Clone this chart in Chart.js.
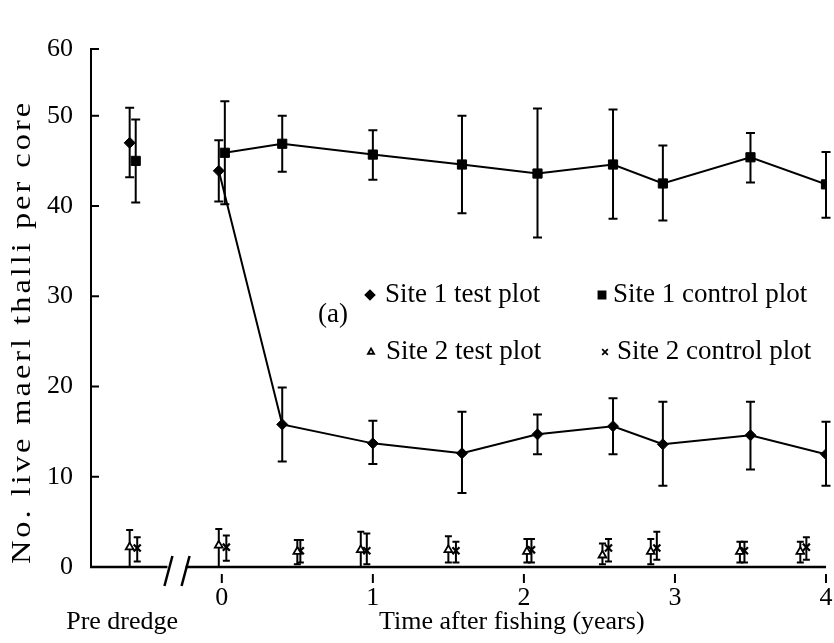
<!DOCTYPE html>
<html>
<head>
<meta charset="utf-8">
<script src="https://cdn.jsdelivr.net/npm/chart.js@4/dist/chart.umd.min.js"></script>
<style>
  html, body { margin: 0; padding: 0; background: #fff; }
  canvas { display: block; }
</style>
</head>
<body>
<canvas id="maerl-chart" width="834" height="643"></canvas>
<script>
// values (years after fishing; pre-dredge samples sit left of the axis break)
const s1TestX  = [-0.61, -0.02, 0.40, 1.00, 1.59, 2.09, 2.59, 2.92, 3.50, 4.00];
const s1TestY  = [47.0, 43.9, 15.8, 13.7, 12.6, 14.7, 15.6, 13.6, 14.6, 12.5];
const s1TestHi = [50.9, 47.3, 19.9, 16.2, 17.2, 16.9, 18.7, 18.3, 18.3, 16.1];
const s1TestLo = [43.2, 40.5, 11.7, 11.4, 8.2, 12.5, 12.5, 9.0, 10.8, 9.0];

const s1CtrlX  = [-0.57, 0.02, 0.40, 1.00, 1.59, 2.09, 2.59, 2.92, 3.50, 4.00];
const s1CtrlY  = [45.0, 45.9, 46.9, 45.7, 44.6, 43.6, 44.6, 42.5, 45.4, 42.4];
const s1CtrlHi = [49.6, 51.6, 50.0, 48.4, 50.0, 50.8, 50.7, 46.7, 48.1, 46.0];
const s1CtrlLo = [40.4, 40.2, 43.8, 42.9, 39.2, 36.5, 38.6, 38.4, 42.6, 38.7];

const s2TestX  = [-0.61, -0.02, 0.50, 0.92, 1.50, 2.02, 2.52, 2.84, 3.43, 3.83];
const s2TestY  = [2.2, 2.4, 1.7, 1.9, 1.9, 1.7, 1.3, 1.7, 1.7, 1.7];
const s2TestHi = [4.1, 4.2, 3.0, 3.9, 3.4, 3.1, 2.6, 3.1, 2.8, 2.8];
const s2TestLo = [0.0, 0.0, 0.3, 0.0, 0.5, 0.5, 0.3, 0.3, 0.5, 0.5];

const s2CtrlX  = [-0.56, 0.03, 0.52, 0.96, 1.55, 2.05, 2.56, 2.88, 3.46, 3.87];
const s2CtrlY  = [2.1, 2.2, 1.8, 1.8, 1.8, 1.9, 2.1, 2.1, 1.8, 2.2];
const s2CtrlHi = [3.3, 3.5, 3.0, 3.7, 2.8, 3.1, 3.1, 3.9, 2.8, 3.3];
const s2CtrlLo = [0.6, 0.7, 0.5, 0.3, 0.5, 0.5, 0.6, 0.8, 0.5, 0.8];

const seriesNames = ['Site 1 test plot', 'Site 1 control plot', 'Site 2 test plot', 'Site 2 control plot'];

// axis ticks as drawn on the original (its top tick sits short of a true 60)
const yTickValues = [0, 10, 20, 30, 40, 50, 57.4];
const yTickLabels = ['0', '10', '20', '30', '40', '50', '60'];
const xTickValues = [0, 1, 2, 3, 4];
const xTickLabels = ['0', '1', '2', '3', '4'];
const xMin = -0.866, xMax = 4.0;
const breakFrom = -0.36, breakTo = -0.24;

const FONT = '"Liberation Serif", "DejaVu Serif", serif';

function points(xs, ys) {
  return xs.map((x, i) => ({ x: x, y: ys[i] }));
}

const errorBars = [
  { lo: s1TestLo, hi: s1TestHi, cap: 4.5 },
  { lo: s1CtrlLo, hi: s1CtrlHi, cap: 4.5 },
  { lo: s2TestLo, hi: s2TestHi, cap: 3.5 },
  { lo: s2CtrlLo, hi: s2CtrlHi, cap: 3.5 }
];

// skip the pre-dredge -> time 0 segment
const skipFirst = { borderColor: ctx => ctx.p0DataIndex === 0 ? 'rgba(0,0,0,0)' : '#000' };

const errorBarPlugin = {
  id: 'errorBars',
  beforeDatasetsDraw(chart) {
    const ctx = chart.ctx;
    const xs = chart.scales.x, ys = chart.scales.y;
    ctx.save();
    ctx.strokeStyle = '#000';
    ctx.lineWidth = 2;
    chart.data.datasets.forEach((ds, di) => {
      const eb = errorBars[di];
      ds.data.forEach((p, i) => {
        const px = xs.getPixelForValue(p.x);
        const top = ys.getPixelForValue(eb.hi[i]);
        const bot = ys.getPixelForValue(eb.lo[i]);
        ctx.beginPath();
        ctx.moveTo(px, top); ctx.lineTo(px, bot);
        ctx.moveTo(px - eb.cap, top); ctx.lineTo(px + eb.cap, top);
        ctx.moveTo(px - eb.cap, bot); ctx.lineTo(px + eb.cap, bot);
        ctx.stroke();
      });
    });
    ctx.restore();
  }
};

const decorPlugin = {
  id: 'decor',
  afterDraw(chart) {
    const ctx = chart.ctx;
    const xs = chart.scales.x, ys = chart.scales.y;
    const y0 = ys.getPixelForValue(0);
    const left = chart.chartArea.left;
    ctx.save();
    ctx.strokeStyle = '#000';
    ctx.fillStyle = '#000';

    // y ticks pointing into the plot
    ctx.lineWidth = 2;
    yTickValues.forEach(v => {
      const py = ys.getPixelForValue(v);
      ctx.beginPath(); ctx.moveTo(left, py); ctx.lineTo(left + 8, py); ctx.stroke();
    });

    // broken x axis
    const bL = xs.getPixelForValue(breakFrom), bR = xs.getPixelForValue(breakTo);
    ctx.lineWidth = 2.5;
    ctx.beginPath();
    ctx.moveTo(left - 1, y0); ctx.lineTo(bL, y0);
    ctx.moveTo(bR, y0); ctx.lineTo(xs.right, y0);
    ctx.stroke();
    [bL + 1, bR].forEach(cx => {
      ctx.beginPath(); ctx.moveTo(cx + 4, y0 - 11); ctx.lineTo(cx - 4, y0 + 19); ctx.stroke();
    });

    // x ticks, hanging below the axis with a small gap
    ctx.lineWidth = 2;
    xTickValues.forEach(v => {
      const px = xs.getPixelForValue(v);
      ctx.beginPath(); ctx.moveTo(px, y0 + 7); ctx.lineTo(px, y0 + 16); ctx.stroke();
    });

    // axis titles
    ctx.font = '26px ' + FONT;
    ctx.textBaseline = 'middle';
    ctx.textAlign = 'center';
    ctx.fillText('Pre dredge', xs.getPixelForValue(-0.66), 622);
    ctx.fillText('Time after fishing (years)', xs.getPixelForValue(1.92), 622);
    // the printed y title is stretched along its length
    ctx.save();
    ctx.font = '27px ' + FONT;
    ctx.letterSpacing = '2.5px';
    ctx.translate(23, 332);
    ctx.rotate(-Math.PI / 2);
    ctx.scale(1.2, 1);
    ctx.fillText('No. live maerl thalli per core', 0, 0);
    ctx.restore();

    // in-plot legend
    ctx.font = '27px ' + FONT;
    ctx.textAlign = 'left';
    ctx.fillText('(a)', 318, 315);
    const items = [
      { style: 'rectRot', r: 4.5, fill: '#000', x: 370, y: 295, tx: 385 },
      { style: 'rect', r: 5, fill: '#000', x: 602, y: 295, tx: 613 },
      { style: 'triangle', r: 3.5, fill: '#fff', x: 371, y: 352, tx: 386 },
      { style: 'crossRot', r: 4, fill: '#000', x: 605, y: 352, tx: 617 }
    ];
    items.forEach((it, i) => {
      ctx.fillStyle = it.fill;
      ctx.strokeStyle = '#000';
      ctx.lineWidth = 1.8;
      Chart.helpers.drawPoint(ctx, { pointStyle: it.style, radius: it.r, rotation: 0, borderWidth: 1.8 }, it.x, it.y);
      ctx.fillStyle = '#000';
      ctx.fillText(seriesNames[i], it.tx, it.y);
    });
    ctx.restore();
  }
};

const chart = new Chart(document.getElementById('maerl-chart').getContext('2d'), {
  type: 'scatter',
  data: {
    datasets: [
      {
        label: seriesNames[0],
        data: points(s1TestX, s1TestY),
        showLine: true,
        borderColor: '#000',
        borderWidth: 2,
        segment: skipFirst,
        pointStyle: 'rectRot',
        pointRadius: 5.5,
        pointBackgroundColor: '#000',
        pointBorderColor: '#000',
        pointBorderWidth: 1
      },
      {
        label: seriesNames[1],
        data: points(s1CtrlX, s1CtrlY),
        showLine: true,
        borderColor: '#000',
        borderWidth: 2,
        segment: skipFirst,
        pointStyle: 'rect',
        pointRadius: 6.5,
        pointBackgroundColor: '#000',
        pointBorderColor: '#000',
        pointBorderWidth: 1
      },
      {
        label: seriesNames[2],
        data: points(s2TestX, s2TestY),
        showLine: false,
        pointStyle: 'triangle',
        pointRadius: 4.5,
        pointBackgroundColor: '#fff',
        pointBorderColor: '#000',
        pointBorderWidth: 1.8
      },
      {
        label: seriesNames[3],
        data: points(s2CtrlX, s2CtrlY),
        showLine: false,
        pointStyle: 'crossRot',
        pointRadius: 5,
        pointBorderColor: '#000',
        pointBorderWidth: 2.2
      }
    ]
  },
  options: {
    responsive: false,
    devicePixelRatio: 1,
    animation: false,
    layout: { padding: { top: 49, right: 8, left: 0, bottom: 0 } },
    plugins: {
      legend: { display: false },
      tooltip: { enabled: false }
    },
    scales: {
      x: {
        type: 'linear',
        min: xMin,
        max: xMax,
        afterFit: s => { s.height = 76; s.paddingLeft = 0; s.paddingRight = 0; },
        afterBuildTicks: s => { s.ticks = xTickValues.map(v => ({ value: v })); },
        grid: { display: false, drawTicks: false },
        border: { display: false },
        ticks: {
          color: '#000',
          font: { family: FONT, size: 26 },
          padding: 16,
          autoSkip: false,
          maxRotation: 0,
          callback: v => xTickLabels[xTickValues.indexOf(v)]
        }
      },
      y: {
        min: 0,
        max: 57.4,
        afterFit: s => { s.width = 91; },
        afterBuildTicks: s => { s.ticks = yTickValues.map(v => ({ value: v })); },
        grid: { display: false, drawTicks: false },
        border: { display: true, color: '#000', width: 2 },
        ticks: {
          color: '#000',
          font: { family: FONT, size: 26 },
          padding: 18,
          autoSkip: false,
          callback: v => yTickLabels[yTickValues.indexOf(v)]
        }
      }
    }
  },
  plugins: [errorBarPlugin, decorPlugin]
});
</script>
</body>
</html>
